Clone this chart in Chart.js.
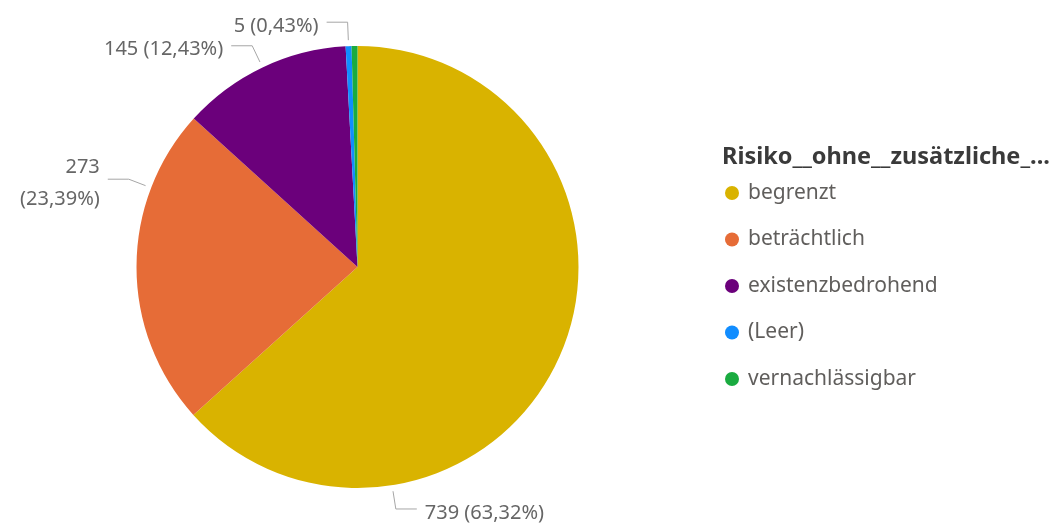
<!DOCTYPE html>
<html>
<head>
<meta charset="utf-8">
<script src="https://cdn.jsdelivr.net/npm/chart.js@4.4.1/dist/chart.umd.min.js"></script>
<style>
  html, body { margin: 0; padding: 0; background: #fff; }
  #wrap { width: 1061px; height: 529px; position: relative; }
</style>
</head>
<body>
<div id="wrap"><canvas id="pieChart"></canvas></div>
<script>
// Data
const legendTitle = 'Risiko__ohne__zusätzliche_...';
const categories = ['begrenzt', 'beträchtlich', 'existenzbedrohend', '(Leer)', 'vernachlässigbar'];
const counts = [739, 273, 145, 5, 5];
const sliceColors = ['#D9B300', '#E66C37', '#6B007B', '#118DFF', '#1AAB40'];

const FONT = '"Noto Sans", "Open Sans", sans-serif';

const pct = (v) => {
  const total = counts.reduce((a, b) => a + b, 0);
  return (v / total * 100).toFixed(2).replace('.', ',') + '%';
};

// data labels with leader lines (power bi style)
const sliceLabels = {
  id: 'sliceLabels',
  afterDatasetsDraw(chart, args, opts) {
    const ctx = chart.ctx;
    const meta = chart.getDatasetMeta(0);
    ctx.save();
    ctx.font = opts.size + 'px ' + FONT;
    meta.data.forEach((arc, i) => {
      const where = opts.angles[i];
      if (where === false) return;
      const p = arc.getProps(['x', 'y', 'startAngle', 'endAngle', 'outerRadius'], true);
      const a = where == null ? (p.startAngle + p.endAngle) / 2 : (where - 90) * Math.PI / 180;
      const cx = Math.cos(a), cy = Math.sin(a);
      const side = cx >= 0 ? 1 : -1;
      const x0 = p.x + (p.outerRadius + 6) * cx, y0 = p.y + (p.outerRadius + 6) * cy;
      const x1 = p.x + (p.outerRadius + 24) * cx, y1 = p.y + (p.outerRadius + 24) * cy;
      const x2 = x1 + side * 21;

      ctx.strokeStyle = '#A6A6A6';
      ctx.lineWidth = 1;
      ctx.beginPath();
      ctx.moveTo(x0, y0);
      ctx.lineTo(x1, y1);
      ctx.lineTo(x2, y1);
      ctx.stroke();

      const txt = counts[i] + ' (' + pct(counts[i]) + ')';
      const tx = x2 + side * 8;
      ctx.fillStyle = '#666666';
      ctx.textAlign = side > 0 ? 'left' : 'right';
      ctx.textBaseline = 'middle';
      const w = ctx.measureText(txt).width;
      if (side < 0 && tx - w < 2) {
        ctx.fillText(String(counts[i]), tx, y1 + 4 - 16);
        ctx.fillText('(' + pct(counts[i]) + ')', tx, y1 + 4 + 16);
      } else {
        ctx.fillText(txt, tx, y1 + 4);
      }
    });
    ctx.restore();
  }
};

// legend on the right
const sideLegend = {
  id: 'sideLegend',
  afterDraw(chart, args, opts) {
    const ctx = chart.ctx;
    ctx.save();
    ctx.textBaseline = 'middle';
    ctx.textAlign = 'left';
    ctx.font = 'bold 23.5px ' + FONT;
    ctx.fillStyle = '#3A3A3A';
    ctx.fillText(legendTitle, opts.x - 10, opts.titleY);
    ctx.font = '21px ' + FONT;
    categories.forEach((c, i) => {
      const y = opts.firstY + i * opts.step;
      ctx.fillStyle = sliceColors[i];
      ctx.beginPath();
      ctx.arc(opts.x, y, 7, 0, Math.PI * 2);
      ctx.fill();
      ctx.fillStyle = '#605E5C';
      ctx.fillText(c, opts.x + 16, y);
    });
    ctx.restore();
  }
};

const pieChart = new Chart(document.getElementById('pieChart'), {
  type: 'pie',
  data: {
    labels: categories,
    datasets: [{
      data: counts,
      backgroundColor: sliceColors,
      borderWidth: 0,
    }],
  },
  options: {
    responsive: true,
    maintainAspectRatio: false,
    animation: false,
    layout: {
      padding: { left: 136, right: 482, top: 46, bottom: 41 },
    },
    plugins: {
      legend: { display: false },
      tooltip: { enabled: false },
      sliceLabels: { size: 20, angles: [171, 291, null, null, false] },
      sideLegend: { x: 732, titleY: 157, firstY: 193, step: 46.5 },
    },
  },
  plugins: [sliceLabels, sideLegend],
});
</script>
</body>
</html>
